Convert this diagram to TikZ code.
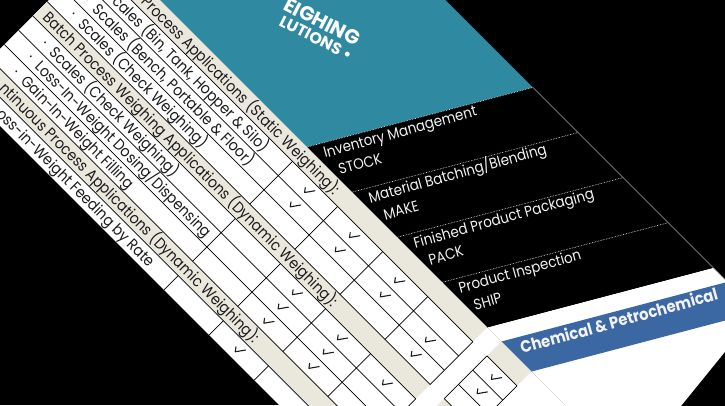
\documentclass[tikz,border=0pt]{standalone}
\usepackage{fontspec}
\setmainfont{Poppins}[FakeStretch=0.9]
\newfontfamily\titlefont{Poppins}
\definecolor{tealc}{HTML}{2F89A0}
\definecolor{bluec}{HTML}{3B67A3}
\definecolor{beige}{HTML}{EAE7DC}
\definecolor{inkc}{HTML}{1C1C1C}
\definecolor{hdrtext}{HTML}{F2F2F2}
\tikzset{
  lbl/.style={anchor=base west, inner sep=0pt, text=inkc, font=\fontsize{15.5}{16}\selectfont},
  hdr/.style={anchor=base west, inner sep=0pt, text=hdrtext, rotate=15.5, font=\fontsize{15}{15}\selectfont},
  chkmark/.style={draw=inkc, line width=1.1pt, line join=round, line cap=round},
  gridline/.style={black, line width=0.7pt},
  hsep/.style={white, line width=0.6pt, densely dotted},
  ttl/.style={anchor=base west, inner sep=0pt, text=white, rotate=-27}
}
\begin{document}
\begin{tikzpicture}[x=1pt,y=1pt]
\useasboundingbox (0,0) rectangle (725,-405);
\clip (0,0) rectangle (725,-405);
\fill[black] (0,0) rectangle (725,-405);
\begin{scope}[rotate=-45, every node/.append style={transform shape}]
  % table body and page
  \fill[white] (34.5,-89) rectangle (1000,113);
  \fill[white] (576,113) -- (1000,113) -- (1000,315) -- (693.7,315) -- cycle;
  % header cells
  \fill[tealc] (0,113) -- (321,113) -- (438.7,315) -- (0,315) -- cycle;
  \fill[black] (321,113) -- (576,113) -- (693.7,315) -- (438.7,315) -- cycle;
  \fill[bluec] (596,113) -- (638.5,113) -- (756.2,315) -- (713.7,315) -- cycle;
  % beige section rows
  \fill[beige] (34.5,92.8) rectangle (576,113);
  \fill[beige] (34.5,12.0) rectangle (576,32.2);
  \fill[beige] (34.5,-68.8) rectangle (576,-48.6);
  \fill[beige] (596,92.8) rectangle (638.5,113);
  \fill[beige] (596,12.0) rectangle (638.5,32.2);
  \fill[beige] (596,-68.8) rectangle (638.5,-48.6);
  % row lines
  \foreach \b in {92.8,72.6,52.4,32.2,12.0,-8.2,-28.4,-48.6,-68.8} {
    \draw[gridline] (34.5,\b) -- (576,\b);
    \draw[gridline] (596,\b) -- (638.5,\b);
  }
  % column lines
  \foreach \s in {321,384.75,448.5,512.25,576,596,638.5} {
    \draw[gridline] (\s,92.8) -- (\s,32.2);
    \draw[gridline] (\s,12.0) -- (\s,-48.6);
    \draw[gridline] (\s,-68.8) -- (\s,-89);
  }
  % header separators
  \foreach \k in {0,1,2,3} {
    \draw[hsep] (321+63.75*\k,113) -- (438.7+63.75*\k,315);
  }
  \draw[gray!70, line width=0.4pt] (438.7,315) -- (780,315);
  % row labels
  \node[lbl] (r1) at (101,97.3) {Process Applications (Static Weighing):};
  \node[lbl] (r2) at (72,77.1) {Scales (Bin, Tank, Hopper \& Silo)};
  \node[lbl] (d3) at (60.5,56.9) {·};
  \node[lbl] (r3) at (72,56.9) {Scales (Bench, Portable \& Floor)};
  \node[lbl] (d4) at (60.5,36.7) {·};
  \node[lbl] (r4) at (72,36.7) {Scales (Check Weighing)};
  \node[lbl] (r5) at (42.4,16.5) {Batch Process Weighing Applications (Dynamic Weighing):};
  \node[lbl] (d6) at (60.5,-3.7) {·};
  \node[lbl] (r6) at (72,-3.7) {Scales (Check Weighing)};
  \node[lbl] (d7) at (60.5,-23.9) {·};
  \node[lbl] (r7) at (72,-23.9) {Loss-In-Weight Dosing/Dispensing};
  \node[lbl] (d8) at (60.5,-44.1) {·};
  \node[lbl] (r8) at (72,-44.1) {Gain-In-Weight Filling};
  \node[lbl] (r9) at (42.4,-64.3) {\phantom{Co}ntinuous Process Applications (Dynamic Weighing):};
  \node[lbl] (r10) at (72,-84.5) {\phantom{L}oss-in-Weight Feeding by Rate};
  % check marks
  \foreach \s/\b in {353/82.7, 353/62.5, 416.6/82.7, 416.6/62.5,
      480.4/82.7, 480.4/62.5, 544.1/62.5, 544.1/42.3, 416.6/1.9, 416.6/-18.3,
      416.6/-38.5, 480.4/1.9, 480.4/-18.3, 480.4/-38.5, 544.1/1.9, 416.6/-78.9,
      617.25/82.7, 617.25/62.5}
    \draw[chkmark] (\s-4.5,\b+0.5) -- (\s-1.5,\b-3.5) -- (\s+4.5,\b+5);
\end{scope}
% column headers
\node[hdr] (h1a) at (325,-158) {Inventory Management};
\node[hdr] (h1b) at (340,-175) {STOCK};
\node[hdr] (h2a) at (370.1,-203.1) {Material Batching/Blending};
\node[hdr] (h2b) at (385.1,-220.1) {MAKE};
\node[hdr] (h3a) at (415.2,-248.2) {Finished Product Packaging};
\node[hdr] (h3b) at (430.2,-265.2) {PACK};
\node[hdr] (h4a) at (460.2,-293.2) {Product Inspection};
\node[hdr] (h4b) at (475.2,-310.2) {SHIP};
% industry header
\node[anchor=base west, inner sep=0pt, rotate=15.5, text=hdrtext,
      font=\bfseries\fontsize{16.5}{16.5}\selectfont] (ind) at (522,-354) {Chemical \& Petrochemical};
% title fragments
\node[ttl, font=\titlefont\bfseries\fontsize{20}{20}\selectfont] (t1) at (282,-9) {EIGHING};
\node[ttl, font=\titlefont\bfseries\fontsize{16}{16}\selectfont] (t2) at (278,-25) {LUTIONS •};
% page corner
\fill[black] (733.6,-341.4) -- (673.4,-415.6) -- (740,-415.6) -- cycle;
\end{tikzpicture}
\end{document}
